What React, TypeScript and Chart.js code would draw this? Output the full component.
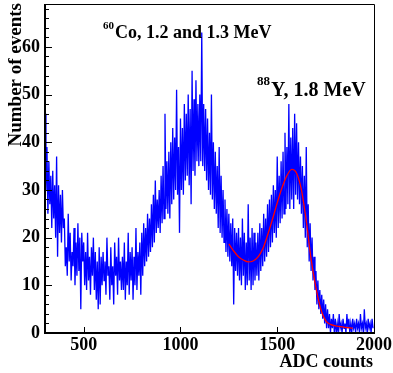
import React, { useEffect, useRef } from "react";
import { Chart, registerables } from "chart.js";

Chart.register(...registerables);

// Histogram: bin start 300 ADC, 5 ADC per bin
const binStart = 300;
const binWidth = 5;
const c300 = [46, 30, 39, 25, 36, 27, 33, 22, 34, 24, 31, 20, 37, 16, 31, 21, 29, 19, 30, 22];
const c400 = [24, 14, 18, 12, 25, 15, 21, 11, 17, 14, 22, 10, 19, 12, 23, 13, 20, 5, 21, 15];
const c500 = [19, 10, 17, 9, 21, 11, 16, 8, 18, 12, 20, 9, 17, 7, 15, 5, 18, 6, 16, 10];
const c600 = [17, 11, 15, 8, 20, 12, 14, 7, 18, 10, 14, 6, 19, 12, 16, 8, 20, 11, 15, 9];
const c700 = [16, 9, 19, 7, 15, 10, 21, 8, 17, 11, 18, 7, 16, 10, 22, 9, 17, 12, 19, 8];
const c800 = [21, 12, 23, 14, 22, 15, 25, 16, 24, 17, 27, 18, 29, 19, 32, 21, 28, 22, 30, 21];
const c900 = [33, 23, 35, 24, 46, 26, 36, 25, 38, 24, 40, 27, 43, 28, 41, 30, 51, 29, 39, 21];
const c1000 = [45, 30, 43, 29, 48, 32, 46, 33, 50, 31, 47, 27, 55, 34, 49, 33, 53, 36, 48, 35];
const c1100 = [50, 36, 63, 35, 48, 34, 47, 32, 45, 30, 42, 29, 50, 28, 40, 26, 38, 25, 35, 22];
const c1200 = [39, 21, 33, 20, 30, 19, 28, 17, 26, 16, 25, 15, 23, 14, 24, 6, 22, 13, 21, 12];
const c1300 = [22, 11, 20, 10, 24, 12, 21, 9, 19, 10, 27, 11, 20, 9, 22, 10, 21, 11, 19, 12];
const c1400 = [21, 11, 23, 13, 22, 14, 25, 15, 24, 16, 27, 17, 28, 18, 29, 19, 31, 21, 30, 20];
const c1500 = [37, 22, 33, 23, 36, 24, 38, 25, 42, 26, 39, 27, 48, 26, 41, 28, 43, 26, 46, 29];
const c1600 = [44, 28, 40, 27, 37, 25, 35, 22, 33, 20, 39, 18, 27, 15, 23, 13, 20, 11, 16, 9];
const c1700 = [13, 6, 11, 5, 9, 4, 8, 3, 7, 2, 6, 1, 5, 1, 4, 0, 3, 1, 4, 0];
const c1800 = [3, 0, 2, 0, 4, 1, 2, 0, 3, 1, 2, 0, 4, 1, 3, 0, 2, 0, 3, 1];
const c1900 = [2, 0, 3, 1, 2, 0, 4, 1, 2, 0, 5, 1, 2, 0, 3, 1, 2, 0, 3, 1];

// Fit curve
const fitX = [1250, 1275, 1300, 1325, 1350, 1375, 1400, 1425, 1450, 1475, 1500, 1525, 1550, 1575, 1600, 1625, 1650, 1675, 1700, 1725, 1750, 1775, 1800, 1850, 1890];
const fitY = [18.7, 17.2, 16.0, 15.3, 14.9, 15.1, 15.9, 17.6, 20.5, 23.8, 27.3, 30.5, 33.0, 34.3, 33.5, 30.0, 23.5, 15.5, 9.5, 5.0, 2.6, 1.8, 1.5, 1.2, 1.0];

const xTicks = [500, 1000, 1500, 2000];
const yTicks = [0, 10, 20, 30, 40, 50, 60];

const counts = [
  ...c300, ...c400, ...c500, ...c600, ...c700, ...c800, ...c900, ...c1000, ...c1100,
  ...c1200, ...c1300, ...c1400, ...c1500, ...c1600, ...c1700, ...c1800, ...c1900,
];

const FONT = "'Liberation Serif', 'Times New Roman', serif";

const framePlugin = {
  id: "rootFrame",
  afterDraw(chart: any) {
    const { ctx, chartArea: a, scales } = chart;
    const xs = scales.x;
    const ys = scales.y;
    ctx.save();
    ctx.strokeStyle = "#000";
    ctx.lineWidth = 1;
    ctx.beginPath();
    ctx.moveTo(a.left, a.top + 0.5);
    ctx.lineTo(a.right + 0.5, a.top + 0.5);
    ctx.lineTo(a.right + 0.5, a.bottom);
    ctx.stroke();
    ctx.lineWidth = 2;
    ctx.beginPath();
    ctx.moveTo(a.left, a.top);
    ctx.lineTo(a.left, a.bottom);
    ctx.lineTo(a.right + 1, a.bottom);
    ctx.stroke();
    ctx.lineWidth = 1;
    ctx.beginPath();
    for (let v = 0; v <= ys.max; v += 2) {
      const y = Math.round(ys.getPixelForValue(v)) + 0.5;
      const len = v % 10 === 0 ? 7 : 4;
      ctx.moveTo(a.left, y);
      ctx.lineTo(a.left + len, y);
    }
    for (const v of xTicks) {
      if (v >= xs.max) continue;
      const x = Math.round(xs.getPixelForValue(v)) + 0.5;
      ctx.moveTo(x, a.bottom);
      ctx.lineTo(x, a.bottom - 6);
    }
    ctx.stroke();

    ctx.fillStyle = "#000";
    ctx.save();
    ctx.translate(20.5, 3);
    ctx.rotate(-Math.PI / 2);
    ctx.font = `bold 19px ${FONT}`;
    ctx.textAlign = "right";
    ctx.textBaseline = "alphabetic";
    ctx.fillText("Number of events", 0, 0);
    ctx.restore();
    ctx.font = `bold 18px ${FONT}`;
    ctx.textAlign = "right";
    ctx.textBaseline = "alphabetic";
    ctx.fillText("ADC counts", 373, 367);

    ctx.textAlign = "left";
    const drawLabel = (
      sup: string,
      main: string,
      x: number,
      yBase: number,
      supSize: number,
      mainSize: number,
      supRise: number
    ) => {
      ctx.font = `bold ${supSize}px ${FONT}`;
      ctx.fillText(sup, x, yBase - supRise);
      const w = ctx.measureText(sup).width;
      ctx.font = `bold ${mainSize}px ${FONT}`;
      ctx.fillText(main, x + w + 1, yBase);
    };
    drawLabel("60", "Co, 1.2 and 1.3 MeV", 103, 38, 11, 18, 9);
    drawLabel("88", "Y, 1.8 MeV", 257, 96, 13, 20, 11);
    ctx.restore();
  },
};

export default function App() {
  const ref = useRef<HTMLCanvasElement | null>(null);
  useEffect(() => {
    if (!ref.current) return;
    const histPts = counts.map((c, i) => ({ x: binStart + i * binWidth, y: c }));
    const fitPts = fitX.map((x, i) => ({ x, y: fitY[i] }));
    const tickFont = { family: FONT, size: 18, weight: "bold" as const };
    const zeroPad = (s: any) => {
      s.paddingTop = 0;
      s.paddingBottom = 0;
      s.paddingLeft = 0;
      s.paddingRight = 0;
    };
    const chart = new Chart(ref.current, {
      type: "line",
      data: {
        datasets: [
          {
            label: "fit",
            data: fitPts,
            borderColor: "#ff0000",
            borderWidth: 1.3,
            pointRadius: 0,
            cubicInterpolationMode: "monotone",
            order: 0,
          },
          {
            label: "hist",
            data: histPts,
            borderColor: "#0000ff",
            borderWidth: 1.3,
            pointRadius: 0,
            tension: 0,
            order: 1,
          },
        ],
      },
      options: {
        animation: false,
        responsive: false,
        layout: { padding: { top: 4, right: 19, left: 0, bottom: 0 } },
        plugins: { legend: { display: false }, tooltip: { enabled: false } },
        scales: {
          x: {
            type: "linear",
            min: 300,
            max: 2000,
            afterFit: (s: any) => {
              s.height = 40;
              zeroPad(s);
            },
            afterBuildTicks: (s: any) => {
              s.ticks = xTicks.map((v) => ({ value: v }));
            },
            grid: { display: false, drawTicks: false, tickLength: 0 },
            border: { display: false },
            ticks: {
              font: tickFont,
              color: "#000",
              padding: 2,
              maxRotation: 0,
              autoSkip: false,
              callback: (v: any) => String(v),
            },
          },
          y: {
            type: "linear",
            min: 0,
            max: 69,
            afterFit: (s: any) => {
              s.width = 45;
              zeroPad(s);
            },
            afterBuildTicks: (s: any) => {
              s.ticks = yTicks.map((v) => ({ value: v }));
            },
            grid: { display: false, drawTicks: false, tickLength: 0 },
            border: { display: false },
            ticks: {
              font: tickFont,
              color: "#000",
              padding: 5,
              autoSkip: false,
              callback: (v: any) => String(v),
            },
          },
        },
      },
      plugins: [framePlugin],
    });
    return () => chart.destroy();
  }, []);
  return (
    <div style={{ position: "absolute", left: 0, top: 0, width: 393, height: 373, background: "#fff" }}>
      <canvas ref={ref} width={393} height={373} />
    </div>
  );
}
